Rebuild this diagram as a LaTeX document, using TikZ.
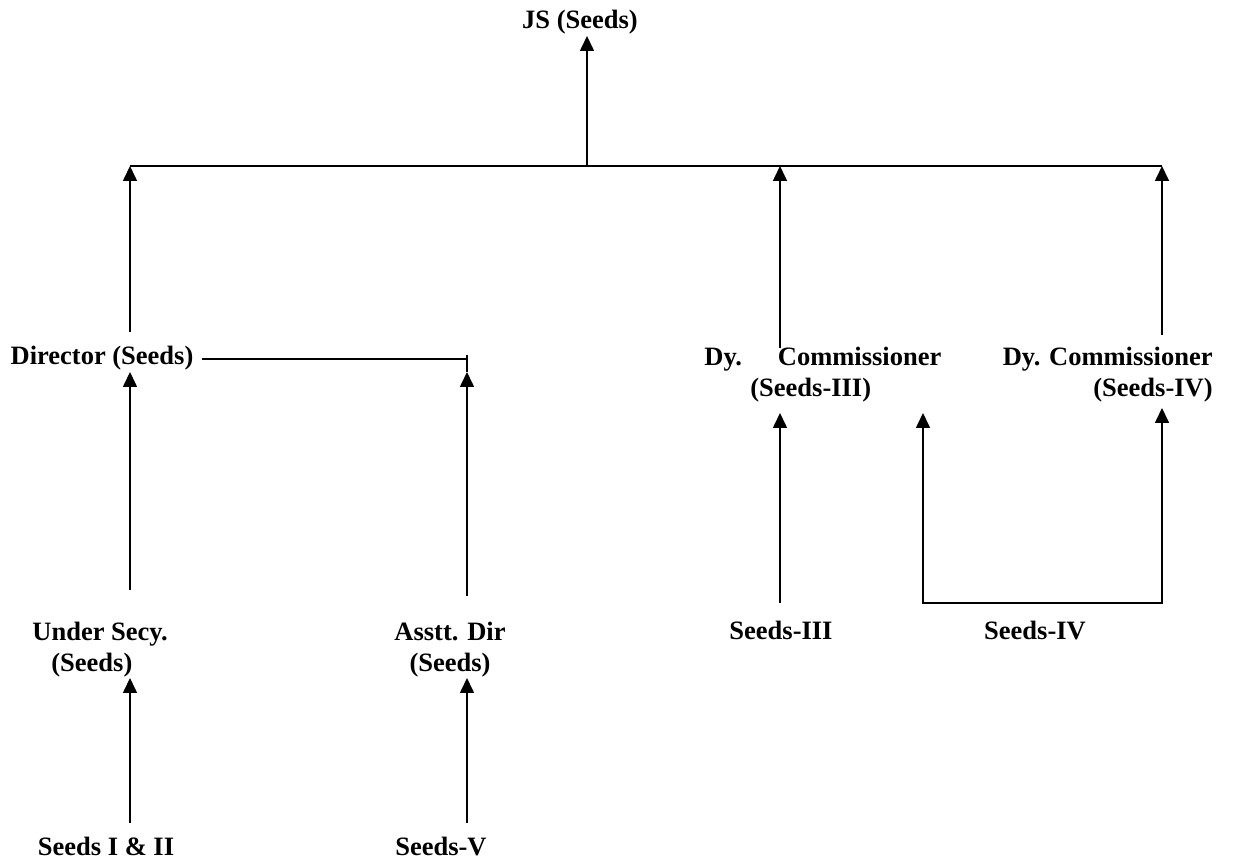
\documentclass[tikz,border=0pt]{standalone}
\usepackage{fontspec}
\setmainfont{Liberation Serif}
\usetikzlibrary{arrows.meta}
\begin{document}
\begin{tikzpicture}[x=0.5pt,y=-0.5pt,
  post/.style={font=\fontsize{13.25}{15.5}\selectfont\bfseries,inner sep=0pt,anchor=base},
  link/.style={line width=0.8pt},
  up/.style={link,-{Triangle[length=7.5pt,width=7pt]}}]
\useasboundingbox (0,0) rectangle (1238,865);
% posts
\node[post] (js) at (580,29) {JS (Seeds)};
\node[post] (dir) at (102,365) {Director (Seeds)};
\node[post,anchor=base west,align=left] (dc3) at (704,397) {Dy.\hspace{18pt}Commissioner\\\hspace*{23pt}(Seeds-III)};
\node[post,anchor=base east,align=right] (dc4) at (1213,397) {Dy. Commissioner\\(Seeds-IV)};
\node[post,anchor=base west,align=left] (us) at (32,672) {Under Secy.\\\hspace*{9.5pt}(Seeds)};
\node[post,align=center] (ad) at (450,672) {Asstt. Dir\\(Seeds)};
\node[post] (s3) at (781,640) {Seeds-III};
\node[post] (s4) at (1035,640) {Seeds-IV};
\node[post] (s12) at (106,856) {Seeds I \& II};
\node[post] (s5) at (441,856) {Seeds-V};
% connector ends
\coordinate (js-in) at (587,36);
\coordinate (bus-js) at (587,166);
\coordinate (bus-l) at (130,166);
\coordinate (bus-c) at (780,166);
\coordinate (bus-r) at (1162,166);
\coordinate (dir-out) at (130,332);
\coordinate (dc3-out) at (780,348);
\coordinate (dc4-out) at (1162,335);
\coordinate (dir-r) at (202,359);
\coordinate (ad-hook) at (467,359);
\coordinate (ad-tick) at (467,355);
\coordinate (dir-in) at (130,372);
\coordinate (ad-up) at (467,372);
\coordinate (dc3-in) at (780,413);
\coordinate (s4-tip) at (923,413);
\coordinate (dc4-in) at (1162,408);
\coordinate (us-out) at (130,590);
\coordinate (ad-out) at (467,596);
\coordinate (s3-out) at (780,603);
\coordinate (s4-l) at (923,603);
\coordinate (s4-r) at (1162,603);
\coordinate (us-in) at (130,678);
\coordinate (ad-in) at (467,678);
\coordinate (s12-out) at (130,823);
\coordinate (s5-out) at (467,823);
% top level
\draw[link] (bus-l) -- (bus-r);
\draw[up] (bus-js) -- (js-in);
\draw[up] (dir-out) -- (bus-l);
\draw[up] (dc3-out) -- (bus-c);
\draw[up] (dc4-out) -- (bus-r);
% middle level
\draw[link] (dir-r) -- (ad-hook);
\draw[link] (ad-tick) -- (ad-up);
\draw[up] (us-out) -- (dir-in);
\draw[up] (ad-out) -- (ad-up);
\draw[up] (s3-out) -- (dc3-in);
\draw[link,{Triangle[length=7.5pt,width=7pt]}-{Triangle[length=7.5pt,width=7pt]}] (s4-tip) -- (s4-l) -- (s4-r) -- (dc4-in);
% bottom level
\draw[up] (s12-out) -- (us-in);
\draw[up] (s5-out) -- (ad-in);
\end{tikzpicture}
\end{document}
